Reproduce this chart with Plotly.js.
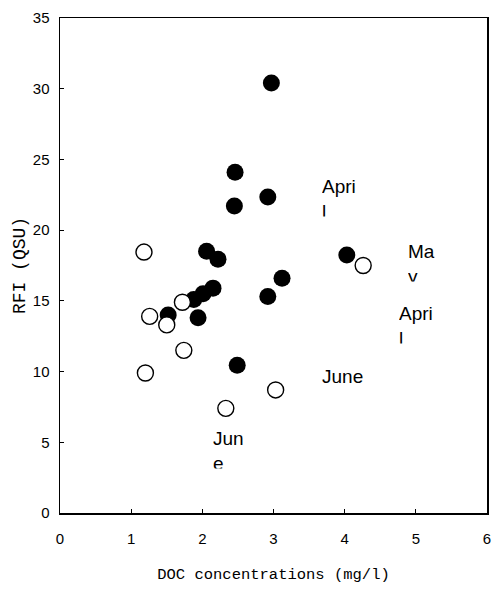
<!DOCTYPE html>
<html>
<head>
<meta charset="utf-8">
<script src="https://cdn.plot.ly/plotly-3.0.1.min.js"></script>
<style>html,body{margin:0;padding:0;background:#fff;}#chart{width:493px;height:590px;}</style>
</head>
<body>
<div id="chart"></div>
<script>
// Filled symbols
var filledX = [2.97, 2.46, 2.45, 2.92, 2.06, 2.22, 2.15, 2.01, 1.88, 1.94, 1.52, 2.49, 2.92, 3.12, 4.03];
var filledY = [30.4, 24.1, 21.7, 22.35, 18.5, 17.95, 15.9, 15.5, 15.1, 13.8, 14.0, 10.45, 15.3, 16.6, 18.25];
// Open symbols
var openX = [1.18, 4.26, 1.26, 1.50, 1.72, 1.74, 1.20, 2.33, 3.03];
var openY = [18.45, 17.5, 13.9, 13.3, 14.9, 11.5, 9.9, 7.4, 8.7];
// Month labels
var labelText = ["Apri<br>l", "Ma<br>y", "Apri<br>l", "June", "Jun<br>e"];
var labelX = [3.65, 4.86, 4.73, 3.65, 2.12];
var labelY = [22.36, 17.75, 13.41, 9.64, 4.56];

var xTicks = [0, 1, 2, 3, 4, 5, 6];
var yTicks = [0, 5, 10, 15, 20, 25, 30, 35];

var traces = [
  {x: filledX, y: filledY, type: 'scatter', mode: 'markers', cliponaxis: false,
   marker: {symbol: 'circle', size: 17, color: '#000', line: {width: 0}}, hoverinfo: 'x+y'},
  {x: openX, y: openY, type: 'scatter', mode: 'markers', cliponaxis: false,
   marker: {symbol: 'circle', size: 16, color: '#fff', line: {width: 1.4, color: '#000'}}, hoverinfo: 'x+y'}
];

var annotations = labelText.map(function (t, i) {
  var two = t.indexOf('<br>') >= 0;
  return {x: labelX[i], y: labelY[i], xref: 'x', yref: 'y', text: t, showarrow: false,
    xanchor: 'left', yanchor: 'middle', align: 'left', valign: 'top',
    height: two ? 40.5 : null,
    font: {family: 'Liberation Sans, Arial, sans-serif', size: 19, color: '#000'}};
});

var layout = {
  width: 493, height: 590,
  margin: {l: 60, r: 6, t: 18, b: 77},
  paper_bgcolor: '#fff', plot_bgcolor: '#fff',
  showlegend: false,
  xaxis: {range: [0, 6], tickvals: xTicks, ticks: 'inside', ticklen: 4, tickwidth: 1, tickcolor: '#000',
    showline: true, linecolor: '#000', linewidth: 1.5, mirror: true, showgrid: false, zeroline: false,
    ticklabelstandoff: 11,
    tickfont: {family: 'Liberation Sans, Arial, sans-serif', size: 15, color: '#000'},
    title: {text: 'DOC concentrations (mg/l)', standoff: 22,
      font: {family: 'Liberation Mono, monospace', size: 15.5, color: '#000'}}},
  yaxis: {range: [0, 35], tickvals: yTicks, ticks: 'inside', ticklen: 4, tickwidth: 1, tickcolor: '#000',
    showline: true, linecolor: '#000', linewidth: 1.5, mirror: true, showgrid: false, zeroline: false,
    ticklabelstandoff: 6,
    tickfont: {family: 'Liberation Sans, Arial, sans-serif', size: 15, color: '#000'},
    title: {text: 'RFI (QSU)', standoff: 2,
      font: {family: 'Liberation Mono, monospace', size: 18, color: '#000'}}},
  annotations: annotations
};

Plotly.newPlot('chart', traces, layout, {displayModeBar: false, staticPlot: true});
</script>
</body>
</html>
